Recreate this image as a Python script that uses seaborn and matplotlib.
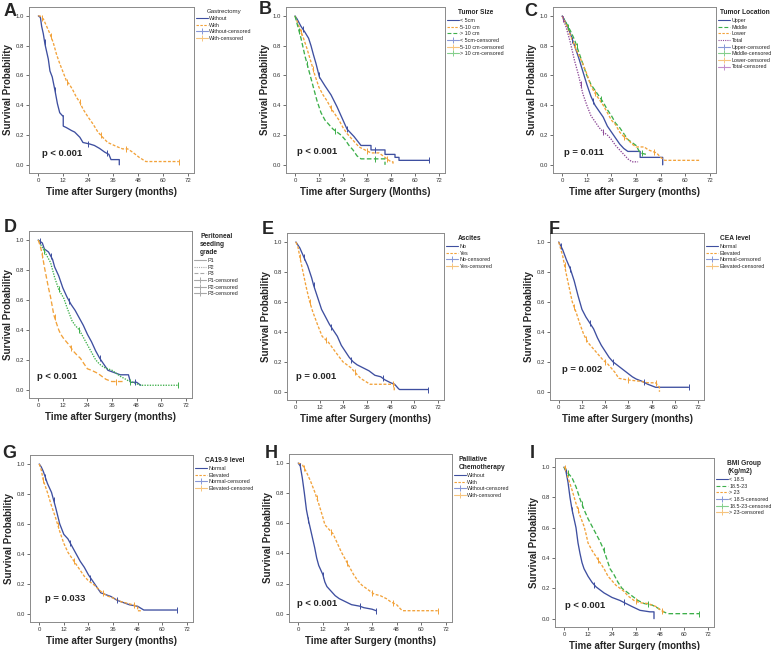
import numpy as np
import pandas as pd
import matplotlib
matplotlib.use('Agg')
import matplotlib.pyplot as plt
import seaborn as sns
from matplotlib.lines import Line2D

sns.set_style('ticks')
plt.rcParams['font.family'] = ['Liberation Sans', 'DejaVu Sans']

# ---------------- data (time in months, survival probability) ----------------
# A: Gastrectomy
A_without_t = [0, 1, 1.6, 2.4, 3.2, 4.8, 5.6, 6.7, 8, 9.2, 10.3, 11.6, 12, 12, 13.5, 16, 17.5, 20, 21.5, 24.7, 27, 29.5, 32, 34, 35, 39, 39]
A_without_s = [1, 0.99, 0.93, 0.88, 0.81, 0.71, 0.63, 0.59, 0.50, 0.41, 0.35, 0.33, 0.33, 0.26, 0.25, 0.23, 0.22, 0.185, 0.15, 0.14, 0.13, 0.11, 0.085, 0.07, 0.035, 0.035, 0.0]
A_with_t = [0, 0.8, 2.4, 4, 5.6, 7.2, 8.8, 10.3, 12, 13.5, 15, 16.7, 18.3, 20, 21.5, 24, 26.3, 28.7, 31, 33.4, 35.8, 38.2, 40.6, 43, 45.4, 48.6, 51.8, 67.7]
A_with_s = [1, 1.0, 0.98, 0.93, 0.88, 0.82, 0.74, 0.68, 0.62, 0.565, 0.54, 0.50, 0.455, 0.42, 0.375, 0.32, 0.275, 0.22, 0.185, 0.15, 0.135, 0.12, 0.107, 0.107, 0.085, 0.05, 0.022, 0.022]
A_without_c = [3, 8, 24, 33]
A_with_c = [2, 6, 14, 20, 30, 42, 67.7]

# B: Tumor Size
B_lt5_t = [0, 1, 3, 5, 6.8, 8, 9.2, 10.5, 12.2, 15, 18, 21, 24, 26, 29.5, 33, 38, 38, 45, 45, 50, 50, 52, 52, 67]
B_lt5_s = [1, 0.98, 0.93, 0.89, 0.85, 0.8, 0.74, 0.68, 0.59, 0.53, 0.47, 0.39, 0.30, 0.24, 0.19, 0.13, 0.13, 0.1, 0.1, 0.07, 0.07, 0.05, 0.05, 0.03, 0.03]
B_5to10_t = [0, 2, 4, 6, 8, 10, 12, 14, 16, 18, 20, 22, 24, 26, 28, 30, 32, 35, 38, 42, 44, 46, 48, 49, 49]
B_5to10_s = [1, 0.93, 0.86, 0.78, 0.69, 0.6, 0.52, 0.47, 0.43, 0.38, 0.34, 0.3, 0.25, 0.21, 0.18, 0.15, 0.12, 0.1, 0.08, 0.08, 0.06, 0.04, 0.02, 0.02, 0.0]
B_gt10_t = [0, 1, 3, 5, 7, 9, 11, 13, 15, 17, 19, 21, 23, 25, 27, 29, 31, 33, 45, 45]
B_gt10_s = [1, 0.95, 0.85, 0.73, 0.63, 0.53, 0.43, 0.35, 0.3, 0.27, 0.24, 0.22, 0.2, 0.17, 0.13, 0.1, 0.06, 0.04, 0.04, 0.0]
B_lt5_c = [4, 12, 26, 40, 67]
B_5to10_c = [3, 9, 18, 36, 46]
B_gt10_c = [2, 6, 20, 40]

# C: Tumor Location
C_upper_t = [0, 2, 4, 6, 8, 10, 12, 14, 16, 18, 20, 22, 24, 26, 28, 30, 32, 38, 38, 49, 49]
C_upper_s = [1, 0.95, 0.88, 0.8, 0.72, 0.63, 0.54, 0.46, 0.4, 0.36, 0.32, 0.26, 0.22, 0.18, 0.14, 0.11, 0.09, 0.09, 0.05, 0.05, 0.0]
C_middle_t = [0, 2, 4, 6, 8, 10, 12, 14, 16, 18, 20, 22, 24, 26, 28, 30, 32, 34, 36, 38, 41]
C_middle_s = [1, 0.95, 0.9, 0.84, 0.76, 0.68, 0.6, 0.54, 0.5, 0.46, 0.42, 0.37, 0.33, 0.28, 0.25, 0.21, 0.17, 0.15, 0.13, 0.08, 0.07]
C_lower_t = [0, 2, 4, 6, 8, 10, 12, 14, 16, 18, 20, 22, 24, 26, 28, 30, 32, 34, 36, 40, 42, 46, 48, 50, 67]
C_lower_s = [1, 0.94, 0.87, 0.8, 0.74, 0.68, 0.61, 0.53, 0.48, 0.44, 0.4, 0.35, 0.3, 0.27, 0.22, 0.19, 0.17, 0.14, 0.12, 0.12, 0.1, 0.08, 0.05, 0.03, 0.03]
C_total_t = [0, 2, 4, 6, 8, 10, 12, 14, 16, 18, 20, 22, 24, 26, 28, 30, 32, 34, 37]
C_total_s = [1, 0.92, 0.82, 0.7, 0.6, 0.48, 0.4, 0.33, 0.29, 0.25, 0.22, 0.2, 0.17, 0.13, 0.1, 0.07, 0.04, 0.02, 0.02]
C_upper_c = [5, 15]
C_middle_c = [3, 7, 19, 39]
C_lower_c = [6, 16, 30, 45]
C_total_c = [0.5, 9, 20]

# D: Peritoneal seeding grade
D_p1_t = [0, 2, 3, 5, 7, 8, 10, 12, 14, 16, 18, 20, 22, 24, 26, 28, 30, 32, 34, 36, 40, 44, 45, 48, 50]
D_p1_s = [1, 0.98, 0.94, 0.92, 0.87, 0.82, 0.76, 0.68, 0.62, 0.57, 0.53, 0.48, 0.43, 0.37, 0.32, 0.26, 0.21, 0.17, 0.13, 0.12, 0.1, 0.1, 0.05, 0.05, 0.03]
D_p2_t = [0, 2, 4, 6, 8, 10, 12.5, 14, 16.5, 18, 20, 22, 24, 26, 28, 30, 32, 36, 40, 44, 48, 50, 68]
D_p2_s = [1, 0.95, 0.9, 0.85, 0.75, 0.67, 0.61, 0.55, 0.46, 0.43, 0.4, 0.35, 0.3, 0.25, 0.2, 0.17, 0.15, 0.13, 0.09, 0.06, 0.04, 0.03, 0.03]
D_p3_t = [0, 1, 2, 3, 4, 5, 6, 7.6, 9, 10, 11, 12.5, 15, 17, 19, 20.6, 22, 24, 26, 29, 31, 33, 35.8, 42]
D_p3_s = [1, 0.96, 0.9, 0.82, 0.75, 0.68, 0.62, 0.5, 0.44, 0.4, 0.37, 0.34, 0.3, 0.26, 0.23, 0.21, 0.18, 0.14, 0.13, 0.11, 0.09, 0.07, 0.055, 0.055]
D_p1_c = [1, 6, 15, 30, 47]
D_p2_c = [3, 10, 20, 45, 68]
D_p3_c = [2, 8, 16, 38]

# E: Ascites
E_no_t = [0, 2, 4, 6, 8, 9, 11, 13, 15, 17, 19, 21, 23, 25, 27, 29, 31, 34, 37, 40, 43, 45, 48, 50, 52, 52.5, 67]
E_no_s = [1, 0.96, 0.9, 0.84, 0.76, 0.71, 0.63, 0.55, 0.5, 0.45, 0.41, 0.37, 0.31, 0.27, 0.23, 0.2, 0.18, 0.16, 0.14, 0.11, 0.1, 0.08, 0.06, 0.05, 0.02, 0.015, 0.015]
E_yes_t = [0, 1, 2, 3.6, 5.2, 6.8, 8.4, 10.9, 13.3, 16.5, 19.8, 23.8, 27.9, 32.7, 37.6, 49.8, 49.8]
E_yes_s = [1, 0.97, 0.9, 0.80, 0.70, 0.61, 0.54, 0.45, 0.37, 0.33, 0.27, 0.2, 0.16, 0.09, 0.05, 0.05, 0.0]
E_no_c = [4, 9, 18, 28, 44, 67]
E_yes_c = [2, 7, 15, 30, 49]

# F: CEA level
F_norm_t = [0, 2, 4, 6, 8, 10, 12, 14, 16, 18, 20, 22, 24, 26, 28, 30, 32, 34, 36, 38, 40, 43, 46, 48, 50, 67]
F_norm_s = [1, 0.95, 0.88, 0.82, 0.74, 0.64, 0.55, 0.5, 0.46, 0.42, 0.36, 0.31, 0.27, 0.23, 0.2, 0.18, 0.16, 0.14, 0.12, 0.1, 0.085, 0.07, 0.05, 0.04, 0.03, 0.03]
F_elev_t = [0, 2, 4, 5, 7, 9, 11, 13, 15, 17, 19, 21, 23, 25, 27, 29, 31, 35, 42, 46, 50, 52, 52]
F_elev_s = [1, 0.91, 0.78, 0.72, 0.6, 0.53, 0.45, 0.38, 0.33, 0.3, 0.27, 0.24, 0.21, 0.19, 0.16, 0.13, 0.09, 0.08, 0.07, 0.06, 0.06, 0.03, 0.0]
F_norm_c = [1, 6, 16, 28, 44, 67]
F_elev_c = [3, 8, 14, 24, 36, 50]

# G: CA19-9 level
G_norm_t = [0, 1, 2, 4, 6, 8, 10, 12, 14, 16, 18, 20, 22, 24, 26, 28, 30, 32, 35, 38, 40, 44, 48, 51, 67]
G_norm_s = [1, 0.98, 0.95, 0.87, 0.81, 0.71, 0.6, 0.53, 0.5, 0.45, 0.4, 0.35, 0.31, 0.26, 0.22, 0.18, 0.14, 0.13, 0.115, 0.09, 0.08, 0.06, 0.05, 0.025, 0.025]
G_elev_t = [0, 1, 2, 4, 6, 8, 10, 12, 14, 16, 18, 20, 22, 24, 27, 30, 33, 36, 40, 43, 48, 48, 50]
G_elev_s = [1, 0.96, 0.89, 0.81, 0.72, 0.64, 0.55, 0.47, 0.41, 0.37, 0.33, 0.29, 0.25, 0.22, 0.19, 0.15, 0.12, 0.105, 0.08, 0.07, 0.05, 0.02, 0.02]
G_norm_c = [3, 7, 15, 25, 38, 67]
G_elev_c = [2, 9, 17, 31, 46]

# H: Palliative Chemotherapy
H_without_t = [0, 1, 2, 3, 4, 5, 6, 7, 8, 9, 10, 12, 13, 14, 16, 18, 20, 23, 26, 30, 32, 36, 38]
H_without_s = [1, 0.98, 0.9, 0.8, 0.69, 0.62, 0.56, 0.5, 0.44, 0.37, 0.32, 0.26, 0.21, 0.18, 0.15, 0.12, 0.1, 0.08, 0.06, 0.05, 0.04, 0.03, 0.02]
H_with_t = [0, 2, 4, 6, 8, 10, 12, 13, 15, 17, 19, 21, 23, 25, 27, 29, 31, 33, 35, 37, 40, 43, 45, 48, 50, 51, 68]
H_with_s = [1, 0.99, 0.94, 0.88, 0.81, 0.73, 0.64, 0.59, 0.56, 0.53, 0.47, 0.41, 0.36, 0.31, 0.26, 0.22, 0.19, 0.17, 0.15, 0.13, 0.12, 0.1, 0.08, 0.06, 0.03, 0.02, 0.02]
H_without_c = [1, 5, 12, 30, 38]
H_with_c = [3, 9, 16, 24, 36, 46, 68]

# I: BMI Group
I_lt185_t = [0, 1, 2, 3, 4, 5, 6, 7, 8, 9, 10, 12, 14, 16, 18, 20, 24, 28, 31, 34, 38, 43, 45, 45]
I_lt185_s = [1, 0.97, 0.9, 0.8, 0.72, 0.66, 0.6, 0.5, 0.43, 0.37, 0.33, 0.28, 0.24, 0.21, 0.19, 0.17, 0.14, 0.12, 0.1, 0.08, 0.055, 0.045, 0.045, 0.0]
I_mid_t = [0, 1, 2, 4, 6, 8, 10, 12, 14, 16, 18, 20, 21, 22, 23, 25, 27, 29, 31, 34, 37, 40, 44, 46, 48, 50, 52, 67.5]
I_mid_s = [1, 0.98, 0.96, 0.93, 0.87, 0.79, 0.72, 0.66, 0.61, 0.56, 0.51, 0.45, 0.41, 0.37, 0.33, 0.29, 0.24, 0.2, 0.18, 0.15, 0.12, 0.1, 0.09, 0.077, 0.06, 0.044, 0.033, 0.033]
I_gt23_t = [0, 1, 2, 4, 6, 8, 10, 11, 12, 14, 16, 18, 20, 22, 24, 26, 28, 30, 32, 35, 38, 42, 46, 48, 50]
I_gt23_s = [1, 0.99, 0.93, 0.85, 0.76, 0.68, 0.61, 0.56, 0.5, 0.45, 0.41, 0.37, 0.33, 0.28, 0.25, 0.22, 0.2, 0.18, 0.15, 0.12, 0.105, 0.1, 0.08, 0.06, 0.044]
I_lt185_c = [1, 4, 15, 30]
I_mid_c = [2, 9, 20, 42, 67.5]
I_gt23_c = [0.5, 7, 17, 36, 49]

# ---------------- styling ----------------
BLUE, ORANGE, GREEN, PURPLE = '#3E4FA0', '#F2A23A', '#3DAF4A', '#8E4A98'
LIGHT = {BLUE: '#8797D6', ORANGE: '#F6C47E', GREEN: '#84CF8C', PURPLE: '#C38CCB'}
LGRAY = '#A8A8A8'
SOLID, DASH_O, DASH_G, DOT_P = None, (0, (2.2, 1.3)), (0, (3.5, 1.8)), (0, (1, 1))

W, H = 778, 650
fig = plt.figure(figsize=(W / 100, H / 100), dpi=100)

LBL_FONT = ['Liberation Sans', 'DejaVu Sans']


def px_axes(l, t, r, b):
    return fig.add_axes([l / W, 1 - b / H, (r - l) / W, (b - t) / H])


def draw_curve(ax, t, s, cens, color, ls):
    df = pd.DataFrame({'t': t, 's': s})
    sns.lineplot(data=df, x='t', y='s', ax=ax, color=color, lw=0.95,
                 estimator=None, sort=False)
    line = ax.lines[-1]
    if ls is not None:
        line.set_linestyle(ls)
    cs = np.interp(cens, t, s)
    sns.scatterplot(x=cens, y=cs, ax=ax, marker='|', s=14, color=color,
                    linewidth=0.7, legend=False, zorder=3)


def panel(letter, rect, letter_xy, curves, title, title_bold, legend_gray,
          pval, pxy, xlabel='Time after Surgery (months)'):
    ax = px_axes(*rect)
    handles_main, handles_cens = [], []
    for (t, s, c, color, ls, name) in curves:
        draw_curve(ax, t, s, c, color, ls)
        lc = LGRAY if legend_gray else color
        handles_main.append(Line2D([0], [0], color=lc, lw=0.8,
                                   linestyle=ls if ls is not None else '-', label=name))
        handles_cens.append(Line2D([0], [0], color=LGRAY if legend_gray else LIGHT[color],
                                   lw=0.8, marker='+', markersize=4, mew=0.7,
                                   label=name.strip() + '-censored'))
    ax.set_xlim(-4.5, 75)
    ax.set_ylim(-0.055, 1.06)
    ax.set_xticks([0, 12, 24, 36, 48, 60, 72])
    ax.set_yticks([0.0, 0.2, 0.4, 0.6, 0.8, 1.0])
    ax.set_yticklabels(['0.0', '0.2', '0.4', '0.6', '0.8', '1.0'])
    ax.tick_params(labelsize=4.3, length=2, width=0.5, colors='#333333', pad=1.5)
    for sp in ax.spines.values():
        sp.set_visible(True)
        sp.set_color('#8A8A8A')
        sp.set_linewidth(0.7)
    ax.set_xlabel(xlabel, fontsize=7, fontweight='bold', family=LBL_FONT, labelpad=3)
    ax.set_ylabel('Survival Probability', fontsize=7, fontweight='bold', family=LBL_FONT, labelpad=2)
    ax.text(pxy[0], pxy[1], pval, fontsize=6.8, fontweight='bold', va='center', family=LBL_FONT)
    ax.legend(handles=handles_main + handles_cens, title=title, loc='upper left',
              bbox_to_anchor=(1.0, 1.0), frameon=False, fontsize=3.9,
              title_fontproperties={'weight': 'bold' if title_bold else 'normal',
                                    'size': 4.8 if title_bold else 4.4},
              handlelength=2.2, handletextpad=0.2, labelspacing=0.3,
              borderaxespad=0.15, borderpad=0.3)
    fig.text(letter_xy[0] / W, 1 - letter_xy[1] / H, letter, fontsize=13,
             fontweight='bold', ha='left', va='center', family=['Liberation Sans', 'DejaVu Sans'])
    return ax


panel('A', (29, 7, 194, 173), (4, 11),
      [(A_without_t, A_without_s, A_without_c, BLUE, SOLID, 'Without'),
       (A_with_t, A_with_s, A_with_c, ORANGE, DASH_O, 'With')],
      'Gastrectomy', False, False, 'p < 0.001', (1.6, 0.078))

panel('B', (286, 7, 445, 173), (259, 10),
      [(B_lt5_t, B_lt5_s, B_lt5_c, BLUE, SOLID, '< 5cm'),
       (B_5to10_t, B_5to10_s, B_5to10_c, ORANGE, DASH_O, '5-10 cm'),
       (B_gt10_t, B_gt10_s, B_gt10_c, GREEN, DASH_G, '> 10 cm')],
      'Tumor Size', True, False, 'p < 0.001', (1.1, 0.089),
      xlabel='Time after Surgery (Months)')

panel('C', (553, 7, 716, 173), (524, 11),
      [(C_upper_t, C_upper_s, C_upper_c, BLUE, SOLID, 'Upper'),
       (C_middle_t, C_middle_s, C_middle_c, GREEN, DASH_G, 'Middle'),
       (C_lower_t, C_lower_s, C_lower_c, ORANGE, DASH_O, 'Lower'),
       (C_total_t, C_total_s, C_total_c, PURPLE, DOT_P, 'Total')],
      'Tumor Location', True, False, 'p = 0.011', (1.0, 0.082))

panel('D', (29, 231, 192, 398), (4, 228),
      [(D_p1_t, D_p1_s, D_p1_c, BLUE, SOLID, 'P1'),
       (D_p2_t, D_p2_s, D_p2_c, GREEN, DOT_P, 'P2'),
       (D_p3_t, D_p3_s, D_p3_c, ORANGE, DASH_G, 'P3')],
      'Peritoneal\nseeding\ngrade', True, True, 'p < 0.001', (-0.5, 0.089))

panel('E', (287, 233, 444, 400), (262, 229),
      [(E_no_t, E_no_s, E_no_c, BLUE, SOLID, 'No'),
       (E_yes_t, E_yes_s, E_yes_c, ORANGE, DASH_O, 'Yes')],
      'Ascites', True, False, 'p = 0.001', (0.3, 0.105))

panel('F', (550, 233, 704, 400), (549, 229),
      [(F_norm_t, F_norm_s, F_norm_c, BLUE, SOLID, 'Normal'),
       (F_elev_t, F_elev_s, F_elev_c, ORANGE, DASH_O, 'Elevated')],
      'CEA level', True, False, 'p = 0.002', (1.8, 0.147))

panel('G', (30, 455, 193, 622), (2, 454),
      [(G_norm_t, G_norm_s, G_norm_c, BLUE, SOLID, 'Normal'),
       (G_elev_t, G_elev_s, G_elev_c, ORANGE, DASH_O, 'Elevated')],
      'CA19-9 level', True, False, 'p = 0.033', (2.9, 0.105))

panel('H', (289, 454, 452, 622), (265, 454),
      [(H_without_t, H_without_s, H_without_c, BLUE, SOLID, 'Without'),
       (H_with_t, H_with_s, H_with_c, ORANGE, DASH_O, 'With')],
      'Palliative\nChemotherapy', True, False, 'p < 0.001', (-0.5, 0.071))

panel('I', (555, 458, 714, 627), (530, 454),
      [(I_lt185_t, I_lt185_s, I_lt185_c, BLUE, SOLID, '< 18.5'),
       (I_mid_t, I_mid_s, I_mid_c, GREEN, DASH_G, '18.5-23'),
       (I_gt23_t, I_gt23_s, I_gt23_c, ORANGE, DASH_O, '> 23')],
      'BMI Group\n(Kg/m2)', True, False, 'p < 0.001', (0.3, 0.088))

fig.savefig('out.png', dpi=100, facecolor='white')
